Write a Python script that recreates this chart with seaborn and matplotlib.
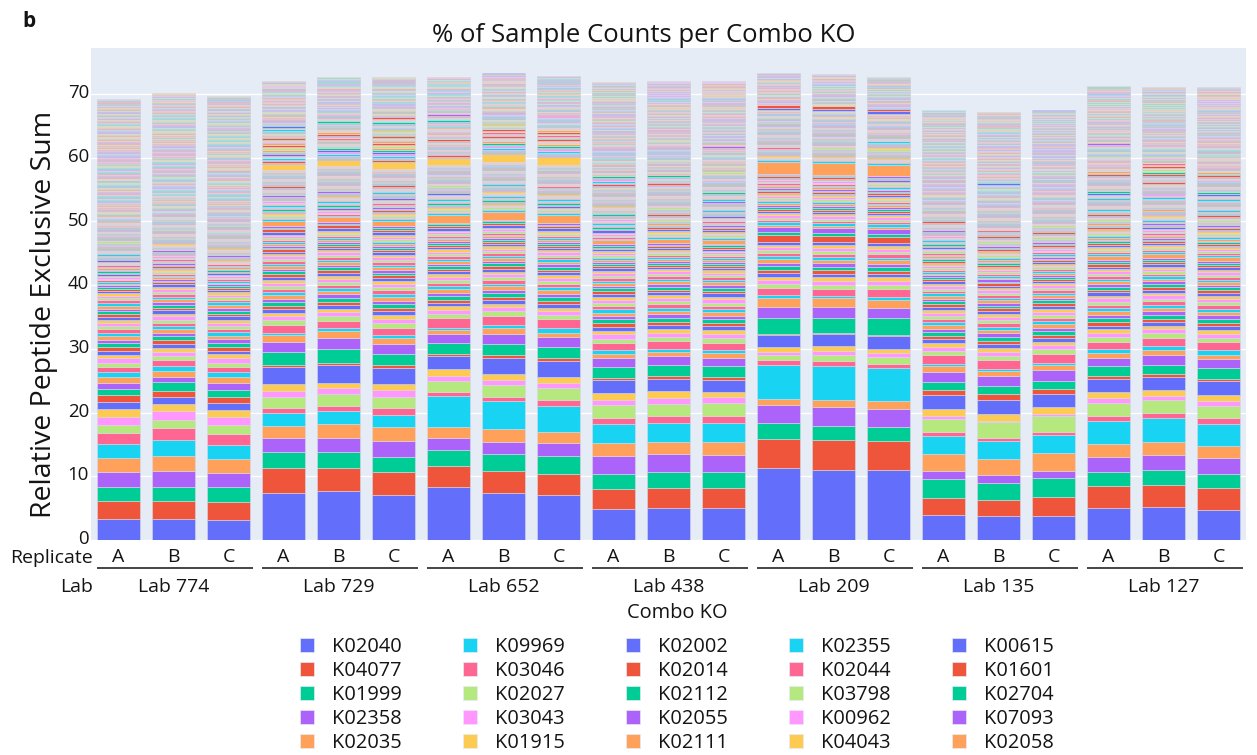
import numpy as np
import matplotlib
matplotlib.use("Agg")
import matplotlib.pyplot as plt
import seaborn as sns
from matplotlib.patches import Patch
from matplotlib.transforms import blended_transform_factory, ScaledTranslation

# ---------------------------------------------------------------- data
LABS = ["Lab 774", "Lab 729", "Lab 652", "Lab 438", "Lab 209", "Lab 135", "Lab 127"]
REPLICATES = ["A", "B", "C"]

# Leading KOs (bottom of each stack). One value per sample, ordered
# 774 A,B,C | 729 A,B,C | 652 A,B,C | 438 A,B,C | 209 A,B,C | 135 A,B,C | 127 A,B,C
K02040 = [3.32, 3.32, 3.16, 7.37, 7.63, 7.00, 8.32, 7.37, 7.00, 4.90, 5.00, 5.00, 11.32, 10.95, 10.95, 3.95, 3.74, 3.84, 5.00, 5.16, 4.63]
K04077 = [2.73, 2.73, 2.79, 3.95, 3.69, 3.69, 3.32, 3.43, 3.32, 3.16, 3.20, 3.20, 4.53, 4.74, 4.64, 2.68, 2.58, 2.90, 3.43, 3.42, 3.53]
K01999 = [2.27, 2.27, 2.32, 2.42, 2.42, 2.26, 2.46, 2.68, 2.84, 2.37, 2.49, 2.49, 2.48, 2.21, 2.10, 3.01, 2.68, 3.00, 2.26, 2.48, 2.27]
K02358 = [2.37, 2.48, 2.26, 2.32, 2.32, 2.64, 1.86, 1.84, 2.01, 2.73, 2.79, 2.63, 2.87, 2.90, 2.90, 1.16, 1.16, 1.11, 2.37, 2.26, 2.37]
K02035 = [2.21, 2.42, 2.16, 1.84, 2.14, 2.10, 1.79, 2.11, 1.83, 2.11, 1.95, 2.10, 0.97, 1.20, 1.15, 2.63, 2.48, 2.74, 2.00, 2.11, 2.00]
K09969 = [2.16, 2.47, 2.21, 2.00, 2.10, 1.95, 4.89, 4.32, 4.06, 2.93, 3.00, 3.00, 5.26, 5.30, 5.25, 2.87, 2.95, 2.89, 3.64, 3.79, 3.40]
K03046 = [1.69, 1.85, 1.74, 0.80, 0.76, 1.06, 0.66, 0.75, 0.94, 1.02, 0.95, 1.05, 0.74, 0.77, 0.60, 0.60, 0.47, 0.52, 0.80, 0.78, 0.90]
K02027 = [1.31, 1.31, 1.37, 1.80, 1.90, 1.80, 1.70, 1.78, 1.85, 1.98, 1.95, 2.00, 0.83, 0.89, 1.05, 2.10, 2.42, 2.38, 2.00, 1.90, 1.96]
K03043 = [1.27, 1.42, 1.32, 0.93, 0.89, 1.04, 0.70, 0.79, 0.79, 0.80, 0.94, 0.90, 0.50, 0.64, 0.65, 0.50, 0.27, 0.37, 0.77, 0.70, 0.69]
K01915 = [1.21, 1.06, 1.05, 0.97, 0.79, 0.86, 1.16, 1.05, 0.96, 1.06, 1.16, 0.90, 0.80, 0.80, 0.70, 1.04, 1.00, 1.05, 0.93, 0.90, 1.05]
K02002 = [1.05, 1.16, 1.05, 2.70, 2.79, 2.60, 2.00, 2.48, 2.47, 2.00, 1.87, 1.85, 1.90, 2.00, 2.00, 2.16, 2.15, 2.10, 2.10, 2.10, 2.10]
K02014 = [1.21, 0.94, 1.06, 0.30, 0.37, 0.40, 0.34, 0.36, 0.43, 0.34, 0.40, 0.50, 0.10, 0.15, 0.20, 0.84, 1.00, 0.85, 0.40, 0.50, 0.40]
K02112 = [0.90, 1.32, 1.05, 2.10, 2.20, 1.80, 1.66, 1.74, 1.80, 1.70, 1.70, 1.70, 2.60, 2.35, 2.60, 1.26, 1.20, 1.25, 1.60, 1.40, 1.70]
K02055 = [0.94, 0.89, 1.05, 1.60, 1.75, 1.50, 1.44, 1.70, 1.56, 1.40, 1.40, 1.25, 1.70, 1.60, 1.60, 1.60, 1.60, 1.60, 1.30, 1.60, 1.40]
K02111 = [0.90, 0.85, 0.95, 1.10, 1.05, 1.05, 0.60, 0.80, 0.64, 0.70, 0.70, 0.75, 1.37, 1.47, 1.30, 0.90, 0.80, 0.80, 0.70, 0.70, 0.70]
K02355 = [0.86, 0.89, 0.86, 0.30, 0.40, 0.45, 0.40, 0.50, 0.70, 0.55, 0.50, 0.50, 0.53, 0.33, 0.50, 0.30, 0.40, 0.40, 0.60, 0.60, 0.65]
K02044 = [0.70, 0.79, 0.70, 1.25, 1.20, 1.10, 1.50, 1.50, 1.40, 1.15, 1.20, 1.15, 1.00, 1.10, 1.20, 1.40, 1.30, 1.40, 1.20, 1.30, 1.25]

LEAD_KOS = ["K02040", "K04077", "K01999", "K02358", "K02035", "K09969", "K03046", "K02027",
            "K03043", "K01915", "K02002", "K02014", "K02112", "K02055", "K02111", "K02355", "K02044"]
LEAD_VALUES = [K02040, K04077, K01999, K02358, K02035, K09969, K03046, K02027,
               K03043, K01915, K02002, K02014, K02112, K02055, K02111, K02355, K02044]

# next KOs in stack order (first entries of the minor block)
NEXT_KOS = ["K03798", "K00962", "K04043", "K00615", "K01601", "K02704", "K07093", "K02058"]

# Minor KOs above the leading block: shared rank-abundance profile in four bands
MINOR_BAND_1 = [0.72, 0.66, 0.58, 0.61, 0.55, 0.63, 0.52, 0.57, 0.49, 0.54, 0.47, 0.51,
                0.45, 0.50, 0.43, 0.46, 0.41, 0.44, 0.39, 0.42, 0.37, 0.40, 0.36, 0.38]
MINOR_BAND_2 = [0.34, 0.31, 0.33, 0.29, 0.32, 0.28, 0.30, 0.27, 0.31, 0.26,
                0.29, 0.25, 0.28, 0.24, 0.27, 0.26, 0.23, 0.25, 0.22, 0.24,
                0.23, 0.21, 0.24, 0.20, 0.22, 0.21, 0.19, 0.22, 0.20, 0.18,
                0.21, 0.19, 0.20, 0.17, 0.19, 0.18, 0.20, 0.16, 0.18, 0.17,
                0.19, 0.16, 0.17, 0.15, 0.18, 0.16, 0.15, 0.17, 0.14, 0.16,
                0.15, 0.17, 0.14, 0.15, 0.13, 0.16, 0.14, 0.15, 0.13, 0.14]
MINOR_BAND_3 = [0.15, 0.03, 0.12, 0.02, 0.14, 0.04, 0.02, 0.13, 0.03, 0.11,
                0.02, 0.14, 0.03, 0.12, 0.01, 0.03, 0.13, 0.02, 0.10, 0.04,
                0.12, 0.02, 0.03, 0.11, 0.02, 0.13, 0.01, 0.03, 0.10, 0.02,
                0.12, 0.03, 0.02, 0.11, 0.04, 0.02, 0.09, 0.03, 0.12, 0.02,
                0.03, 0.10, 0.02, 0.01, 0.11, 0.03, 0.09, 0.02, 0.03, 0.10,
                0.02, 0.12, 0.03, 0.02, 0.09, 0.01, 0.03, 0.10, 0.02, 0.03,
                0.09, 0.02, 0.11, 0.03, 0.01, 0.08, 0.02, 0.03, 0.10, 0.02,
                0.03, 0.08, 0.02, 0.09, 0.01, 0.03, 0.02, 0.08, 0.03, 0.02]
MINOR_BAND_4 = [0.05, 0.02, 0.03, 0.01, 0.04, 0.02, 0.06, 0.03, 0.02, 0.04,
                0.02, 0.03, 0.05, 0.02, 0.01, 0.04, 0.03, 0.02, 0.06, 0.03,
                0.03, 0.01, 0.04, 0.03, 0.02, 0.05, 0.02, 0.03, 0.01, 0.04,
                0.06, 0.02, 0.03, 0.02, 0.04, 0.01, 0.03, 0.05, 0.02, 0.03,
                0.02, 0.04, 0.01, 0.03, 0.05, 0.02, 0.03, 0.02, 0.04, 0.03,
                0.03, 0.02, 0.05, 0.01, 0.03, 0.04, 0.02, 0.06, 0.02, 0.03,
                0.04, 0.03, 0.02, 0.03, 0.01, 0.05, 0.03, 0.02, 0.04, 0.02,
                0.02, 0.05, 0.03, 0.02, 0.04, 0.02, 0.01, 0.03, 0.05, 0.03,
                0.03, 0.02, 0.04, 0.06, 0.02, 0.03, 0.02, 0.04, 0.01, 0.03,
                0.05, 0.03, 0.02, 0.03, 0.04, 0.01, 0.03, 0.02, 0.05, 0.02,
                0.02, 0.04, 0.03, 0.01, 0.02, 0.05, 0.02, 0.03, 0.04, 0.02,
                0.03, 0.02, 0.01, 0.04, 0.03, 0.02, 0.05, 0.02, 0.03, 0.01,
                0.04, 0.02, 0.03, 0.02, 0.01, 0.03, 0.05, 0.02, 0.02, 0.03,
                0.02, 0.03, 0.04, 0.01, 0.03, 0.02, 0.02, 0.04, 0.03, 0.02,
                0.01, 0.03, 0.02, 0.05, 0.02, 0.01, 0.03, 0.02, 0.04, 0.02,
                0.03, 0.02, 0.01, 0.03, 0.04, 0.02, 0.02, 0.03, 0.01, 0.02,
                0.02, 0.04, 0.02, 0.01, 0.03, 0.02, 0.03, 0.01, 0.02, 0.03,
                0.01, 0.02, 0.03, 0.02, 0.01, 0.04, 0.02, 0.02, 0.03, 0.01,
                0.02, 0.03, 0.01, 0.02, 0.02, 0.03, 0.01, 0.02, 0.04, 0.02,
                0.02, 0.01, 0.03, 0.02, 0.01, 0.02, 0.03, 0.02, 0.01, 0.02,
                0.01, 0.02, 0.02, 0.03, 0.01, 0.02, 0.01, 0.02, 0.03, 0.01,
                0.02, 0.01, 0.02, 0.01, 0.03, 0.02, 0.01, 0.02, 0.01, 0.02,
                0.01, 0.02, 0.01, 0.02, 0.02, 0.01, 0.02, 0.01, 0.01, 0.02,
                0.01, 0.01, 0.02, 0.01, 0.02, 0.01, 0.01, 0.02, 0.01, 0.01,
                0.01, 0.01, 0.01, 0.02, 0.01, 0.01, 0.01, 0.01, 0.02, 0.01]

# relative weight of each minor band per lab
BAND_WEIGHTS = {
    "Lab 774": (1.0, 0.85, 1.2, 2.2),
    "Lab 729": (1.0, 1.0, 1.8, 0.8),
    "Lab 652": (1.0, 1.0, 1.8, 0.8),
    "Lab 438": (1.0, 1.0, 1.6, 1.5),
    "Lab 209": (1.0, 1.0, 1.2, 0.4),
    "Lab 135": (1.0, 1.0, 1.1, 1.6),
    "Lab 127": (1.0, 1.0, 1.6, 1.3),
}

# lab-specific minor KOs that stand out (stack position -> value)
LAB_PEAKS = {
    "Lab 729": {50: 0.45, 51: 0.40, 54: 0.80, 99: 1.00, 110: 0.30, 131: 0.35},
    "Lab 652": {50: 0.50, 54: 1.30, 99: 1.30, 121: 0.35},
    "Lab 438": {54: 0.60, 60: 0.40},
    "Lab 209": {31: 1.10, 33: 0.80, 64: 2.00, 130: 0.45, 131: 0.45},
    "Lab 135": {150: 0.30},
    "Lab 127": {44: 0.70, 111: 0.30},
}

# stacked height of every sample
SAMPLE_TOTALS = [69.2, 70.1, 69.7, 72.1, 72.65, 72.7, 72.6, 73.2, 72.8, 71.9, 72.0, 72.0,
                 73.3, 73.1, 72.6, 67.5, 67.2, 67.4, 71.3, 71.1, 71.1]

PLOTLY_COLORS = ["#636EFA", "#EF553B", "#00CC96", "#AB63FA", "#FFA15A",
                 "#19D3F3", "#FF6692", "#B6E880", "#FF97FF", "#FECB52"]

# ---------------------------------------------------------------- assemble
samples = [(lab, rep) for lab in LABS for rep in REPLICATES]
n_samples = len(samples)
lead = np.array(LEAD_VALUES, dtype=float)
bands = [np.array(b, dtype=float) for b in (MINOR_BAND_1, MINOR_BAND_2, MINOR_BAND_3, MINOR_BAND_4)]
n_lead = len(LEAD_KOS)
n_minor = sum(len(b) for b in bands)

minor = np.zeros((n_minor, n_samples))
for j, (lab, rep) in enumerate(samples):
    col = np.concatenate([b * w for b, w in zip(bands, BAND_WEIGHTS[lab])])
    for pos, v in LAB_PEAKS.get(lab, {}).items():
        col[pos - n_lead] = v
    col *= (SAMPLE_TOTALS[j] - lead[:, j].sum()) / col.sum()
    minor[:, j] = col
values = np.vstack([lead, minor])
legend_names = LEAD_KOS + NEXT_KOS

# ---------------------------------------------------------------- style
W, H = 1257, 755
BG = "#E5ECF6"
EDGE = "#D9DAE5"
TEXT = "#141414"
sns.set_theme(style="darkgrid", rc={
    "axes.facecolor": BG, "grid.color": "white", "grid.linewidth": 1.0,
    "axes.edgecolor": BG, "figure.facecolor": "white",
})
plt.rcParams["font.family"] = ["Open Sans", "DejaVu Sans"]
palette = sns.color_palette(PLOTLY_COLORS)


def fx(px):
    return px / W


def fy(py):
    return 1 - py / H


fig = plt.figure(figsize=(W / 100, H / 100), dpi=100)
ax = fig.add_axes([fx(91), fy(540), (1246 - 91) / W, (540 - 48) / H])
ax.set_axisbelow(True)

x = np.arange(n_samples)
bottom = np.zeros(n_samples)
for k in range(values.shape[0]):
    seg = values[k]
    ax.bar(x, seg, width=0.79, bottom=bottom, color=palette[k % 10],
           edgecolor=EDGE, linewidth=0.4)
    bottom += seg

ax.set_xlim(-0.5, n_samples - 0.5)
ax.set_ylim(0, 77.2)
ax.set_yticks(range(0, 71, 10))
ax.set_xticks([])
ax.grid(axis="x", visible=False)
ax.tick_params(axis="y", length=0, pad=1.5, labelsize=13.4, labelcolor=TEXT)
lift = ScaledTranslation(0, 2 / 72, fig.dpi_scale_trans)
for lbl in ax.get_yticklabels():
    lbl.set_transform(lbl.get_transform() + lift)
for s in ax.spines.values():
    s.set_visible(False)

# category axis: replicate row, lab row with dividers
trans = blended_transform_factory(ax.transData, fig.transFigure)
for j, (lab, rep) in enumerate(samples):
    ax.text(j, fy(562), rep, transform=trans, ha="center", va="baseline",
            fontsize=14, color=TEXT)
for g, lab in enumerate(LABS):
    start, end = g * 3, g * 3 + 2
    ax.plot([start - 0.40, end + 0.44], [fy(567.7)] * 2, transform=trans,
            color="#444444", lw=1.4, clip_on=False, solid_capstyle="butt")
    ax.text(start + 1, fy(592), lab, transform=trans, ha="center", va="baseline",
            fontsize=14, color=TEXT)
fig.text(fx(93), fy(563), "Replicate", ha="right", va="baseline", fontsize=14, color=TEXT)
fig.text(fx(93), fy(592), "Lab", ha="right", va="baseline", fontsize=14, color=TEXT)

# titles
fig.text(fx(432), fy(42), "% of Sample Counts per Combo KO", ha="left", va="baseline",
         fontsize=18.5, color=TEXT)
fig.text(fx(51), fy(314), "Relative Peptide Exclusive Sum", rotation=90,
         rotation_mode="anchor", ha="center", va="baseline", fontsize=20.5, color=TEXT)
fig.text(fx(29), fy(27), "b", ha="center", va="baseline", fontsize=15,
         fontweight="bold", color=TEXT)

# legend
fig.text(fx(677), fy(613), "Combo KO", ha="center", va="center", fontsize=14.4, color=TEXT)
handles = [Patch(facecolor=palette[i % 10], edgecolor=BG, linewidth=0.5)
           for i in range(len(legend_names))]
leg = fig.legend(handles, legend_names, loc="upper center",
                 bbox_to_anchor=(fx(677), fy(637)), ncol=5, frameon=False,
                 fontsize=14.4, handlelength=0.72, handleheight=0.72, handletextpad=0.9,
                 columnspacing=3.04, labelspacing=0.2, borderpad=0, borderaxespad=0)
for t in leg.get_texts():
    t.set_color(TEXT)

fig.savefig("out.png", dpi=100)
